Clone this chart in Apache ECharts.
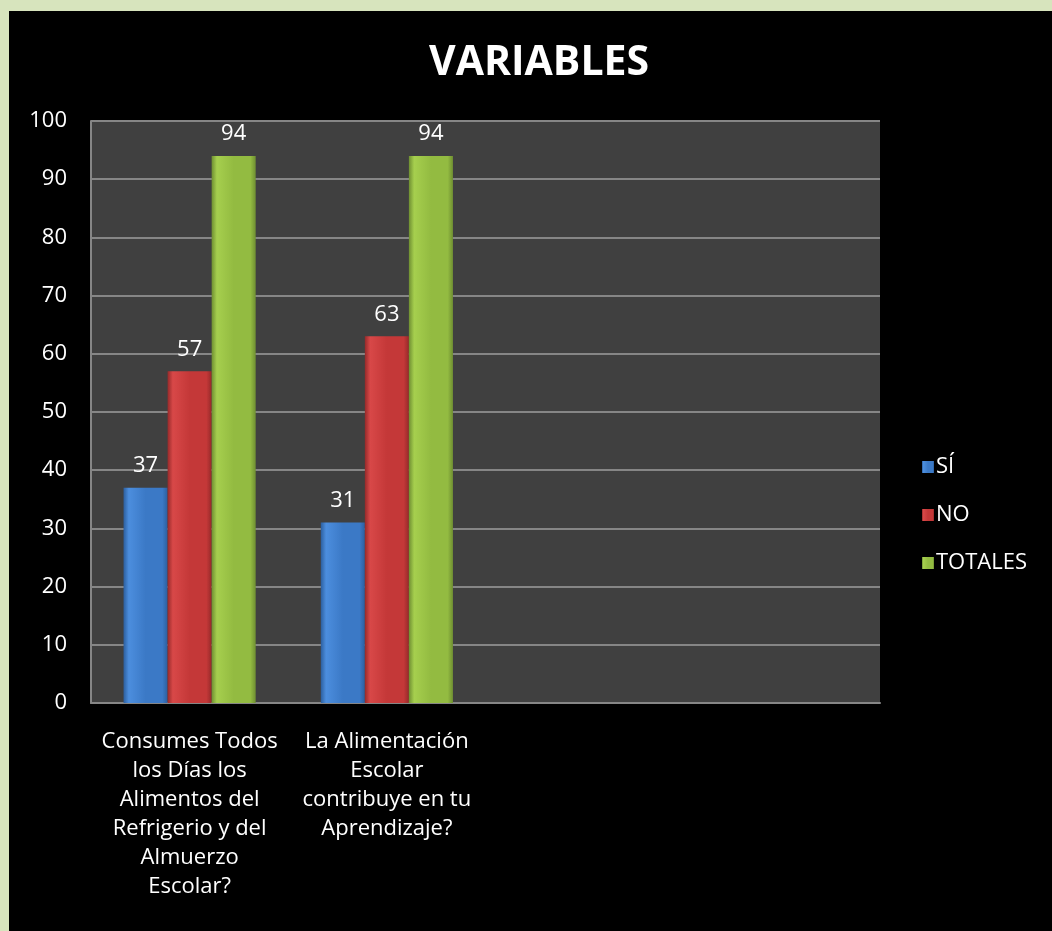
<!DOCTYPE html>
<html>
<head>
<meta charset="utf-8">
<script src="https://cdn.jsdelivr.net/npm/echarts@6/dist/echarts.min.js"></script>
<style>
  html, body { margin: 0; padding: 0; background: #d7e4bd; }
  #chart { position: absolute; left: 9px; top: 11px; width: 1043px; height: 920px; }
</style>
</head>
<body>
<div id="chart"></div>
<script>
// datos
const categorias = [
  "Consumes Todos\nlos Días los\nAlimentos del\nRefrigerio y del\nAlmuerzo\nEscolar?",
  "La Alimentación\nEscolar\ncontribuye en tu\nAprendizaje?",
  "",
  ""
];
const si = [37, 31, null, null];
const no = [57, 63, null, null];
const totales = [94, 94, null, null];
const ticksY = { min: 0, max: 100, interval: 10 };

const FONT = "Open Sans";

// degradado horizontal para simular el relieve de las barras
function relieve(oscuro, medio, claro) {
  return {
    type: "linear", x: 0, y: 0, x2: 1, y2: 0,
    colorStops: [
      { offset: 0, color: oscuro },
      { offset: 0.12, color: claro },
      { offset: 0.5, color: medio },
      { offset: 0.88, color: medio },
      { offset: 1, color: oscuro }
    ]
  };
}

const etiqueta = {
  show: true,
  position: "top",
  distance: 11,
  color: "#fff",
  fontFamily: FONT,
  fontSize: 22
};

const myChart = echarts.init(document.getElementById("chart"));
myChart.setOption({
  backgroundColor: "#000",
  animation: false,
  title: {
    text: "VARIABLES",
    left: 420,
    top: 32,
    padding: 0,
    textStyle: { color: "#fff", fontFamily: FONT, fontSize: 41, fontWeight: "bold" }
  },
  legend: {
    orient: "vertical",
    left: 913,
    top: 445,
    padding: 0,
    itemWidth: 12,
    itemHeight: 12,
    itemGap: 26,
    icon: "rect",
    textStyle: { color: "#fff", fontFamily: FONT, fontSize: 22, padding: [0, 0, 0, -3] },
    data: ["SÍ", "NO", "TOTALES"]
  },
  grid: { left: 82, right: 172, top: 110, bottom: 228, backgroundColor: "#404040", show: true, borderWidth: 0 },
  xAxis: {
    type: "category",
    data: categorias,
    axisTick: { show: false },
    axisLine: { show: true, lineStyle: { color: "#868686", width: 2 } },
    axisLabel: { color: "#fff", fontFamily: FONT, fontSize: 22, lineHeight: 29, margin: 24, interval: 0 }
  },
  yAxis: {
    type: "value",
    min: ticksY.min,
    max: ticksY.max,
    interval: ticksY.interval,
    axisLine: { show: true, lineStyle: { color: "#868686", width: 2 } },
    axisTick: { show: false },
    splitLine: { lineStyle: { color: "#868686", width: 2 } },
    axisLabel: { color: "#fff", fontFamily: FONT, fontSize: 22, margin: 24 }
  },
  series: [
    {
      name: "SÍ", type: "bar", data: si, barGap: "0%", barCategoryGap: "33%",
      itemStyle: { color: relieve("#2c5f9f", "#3b79c6", "#4c8ede") },
      label: etiqueta
    },
    {
      name: "NO", type: "bar", data: no,
      itemStyle: { color: relieve("#962a2a", "#c43838", "#d84848") },
      label: etiqueta
    },
    {
      name: "TOTALES", type: "bar", data: totales,
      itemStyle: { color: relieve("#6f8f32", "#93bb41", "#a6cf4e") },
      label: etiqueta
    }
  ]
});
window.addEventListener("resize", () => {
  myChart.resize();
});
</script>
</body>
</html>
